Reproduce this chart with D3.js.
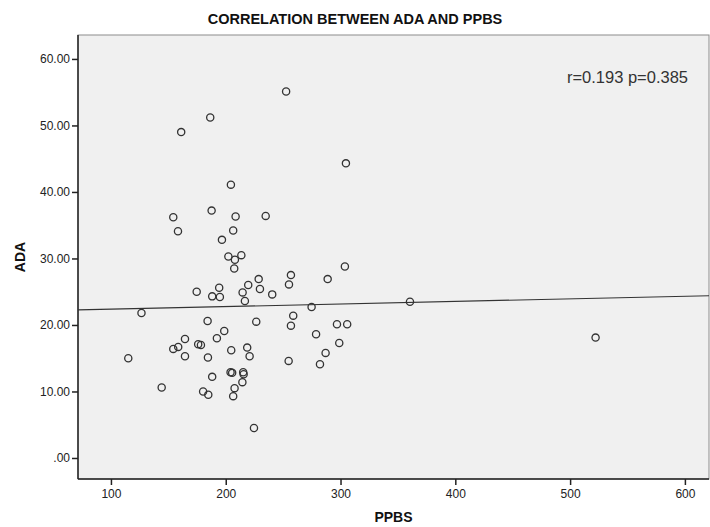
<!doctype html>
<html>
  <head>
    <meta charset="utf-8">
    <title>Correlation between ADA and PPBS</title>
    <script src="https://cdnjs.cloudflare.com/ajax/libs/d3/7.8.5/d3.min.js"></script>
    <style>
      body { margin: 0; background: #fff; }
      text { font-family: "Liberation Sans", Arial, sans-serif; }
    </style>
  </head>
  <body>
    <div id="chart"></div>

    <script>
      // data (PPBS, ADA)
      const ppbs = [
        252.6, 186.5, 161.2, 304.7, 204.5, 154.3, 187.7, 208.6, 234.8, 158.4,
        206.5, 196.7, 202.3, 213.6, 208.0, 207.4, 303.8, 256.8, 219.6, 228.7,
        255.1, 288.8, 174.7, 194.3, 188.2, 194.9, 214.7, 229.8, 240.5, 216.7,
        274.8, 360.5, 126.6, 258.8, 184.2, 226.6, 256.8, 296.9, 305.8, 278.7,
        198.7, 192.3, 164.5, 158.6, 154.3, 176.0, 178.4, 204.8, 218.7, 220.8,
        164.5, 184.5, 254.8, 282.1, 298.9, 287.0, 522.2, 204.2, 205.6, 215.2,
        215.6, 188.2, 214.5, 144.2, 207.7, 180.3, 184.8, 206.5, 224.6, 115.1
      ];
      const ada = [
        55.1, 51.2, 49.0, 44.3, 41.1, 36.2, 37.2, 36.3, 36.4, 34.1,
        34.2, 32.8, 30.3, 30.5, 29.8, 28.5, 28.8, 27.5, 26.0, 26.9,
        26.1, 26.9, 25.0, 25.6, 24.3, 24.2, 24.9, 25.4, 24.6, 23.6,
        22.7, 23.5, 21.8, 21.4, 20.6, 20.5, 19.9, 20.1, 20.1, 18.6,
        19.1, 18.0, 17.9, 16.7, 16.4, 17.1, 17.0, 16.2, 16.6, 15.3,
        15.3, 15.1, 14.6, 14.1, 17.3, 15.8, 18.1, 12.9, 12.8, 12.9,
        12.6, 12.2, 11.4, 10.6, 10.5, 10.0, 9.5, 9.3, 4.5, 15.0
      ];

      // fit line as drawn in the figure (intercept, slope)
      const fitCoef = [21.98, 0.00389];
      const statLabel = ['r=0.193 p=0.385'];

      const xTicks = [100, 200, 300, 400, 500, 600];
      const yTicks = [0, 10, 20, 30, 40, 50, 60];
      const yTickLabels = ['.00', '10.00', '20.00', '30.00', '40.00', '50.00', '60.00'];

      const width = 710, height = 527;
      const plotL = 78, plotR = 709, plotT = 35, plotB = 479;

      const x = d3.scaleLinear().domain([71.3, 621]).range([plotL, plotR]);
      const y = d3.scaleLinear().domain([-3.16, 63.6]).range([plotB, plotT]);

      const svg = d3.select('#chart')
        .append('svg')
        .attr('width', width)
        .attr('height', height);

      // plot background
      svg.append('rect')
        .attr('x', plotL)
        .attr('y', plotT)
        .attr('width', plotR - plotL)
        .attr('height', plotB - plotT)
        .style('fill', '#f0f0f0')
        .style('stroke', '#8c8c8c')
        .style('stroke-width', 1);

      // axes
      const xAxis = d3.axisBottom(x)
        .tickValues(xTicks)
        .tickSize(6)
        .tickPadding(4)
        .tickSizeOuter(0);

      const yAxis = d3.axisLeft(y)
        .tickValues(yTicks)
        .tickSize(6)
        .tickPadding(2)
        .tickSizeOuter(0)
        .tickFormat((d, i) => yTickLabels[i]);

      const gx = svg.append('g')
        .attr('transform', `translate(0,${plotB})`)
        .call(xAxis);
      gx.select('.domain').attr('d', `M${plotL},0H${plotR}`);

      const gy = svg.append('g')
        .attr('transform', `translate(${plotL},0)`)
        .call(yAxis);
      gy.select('.domain').attr('d', `M0,${plotT}V${plotB}`);

      svg.selectAll('.domain')
        .style('stroke', '#222')
        .style('stroke-width', 1.5);
      svg.selectAll('.tick line')
        .style('stroke', '#222')
        .style('stroke-width', 1.5);
      svg.selectAll('.tick text')
        .style('font-size', '12px')
        .style('fill', '#222');

      // regression line
      const lineX = x.domain();
      svg.append('line')
        .attr('x1', x(lineX[0]))
        .attr('y1', y(fitCoef[0] + fitCoef[1] * lineX[0]))
        .attr('x2', x(lineX[1]))
        .attr('y2', y(fitCoef[0] + fitCoef[1] * lineX[1]))
        .style('stroke', '#333')
        .style('stroke-width', 1.2);

      // points
      svg.append('g')
        .selectAll('circle')
        .data(ppbs.map((d, i) => [d, ada[i]]))
        .join('circle')
        .attr('cx', d => x(d[0]))
        .attr('cy', d => y(d[1]))
        .attr('r', 3.6)
        .style('fill', 'none')
        .style('stroke', '#333')
        .style('stroke-width', 1.3);

      // r / p annotation
      svg.append('text')
        .attr('x', 688)
        .attr('y', 83)
        .attr('text-anchor', 'end')
        .style('font-size', '16.5px')
        .style('fill', '#333')
        .text(statLabel[0]);

      // titles
      svg.append('text')
        .attr('x', 355)
        .attr('y', 24)
        .attr('text-anchor', 'middle')
        .style('font-size', '14.5px')
        .style('font-weight', 'bold')
        .style('fill', '#111')
        .text('CORRELATION BETWEEN ADA AND PPBS');

      svg.append('text')
        .attr('x', (plotL + plotR) / 2)
        .attr('y', 522)
        .attr('text-anchor', 'middle')
        .style('font-size', '14px')
        .style('font-weight', 'bold')
        .style('fill', '#111')
        .text('PPBS');

      svg.append('text')
        .attr('transform', `translate(25,${(plotT + plotB) / 2}) rotate(-90)`)
        .attr('text-anchor', 'middle')
        .style('font-size', '14px')
        .style('font-weight', 'bold')
        .style('fill', '#111')
        .text('ADA');
    </script>
  </body>
</html>
